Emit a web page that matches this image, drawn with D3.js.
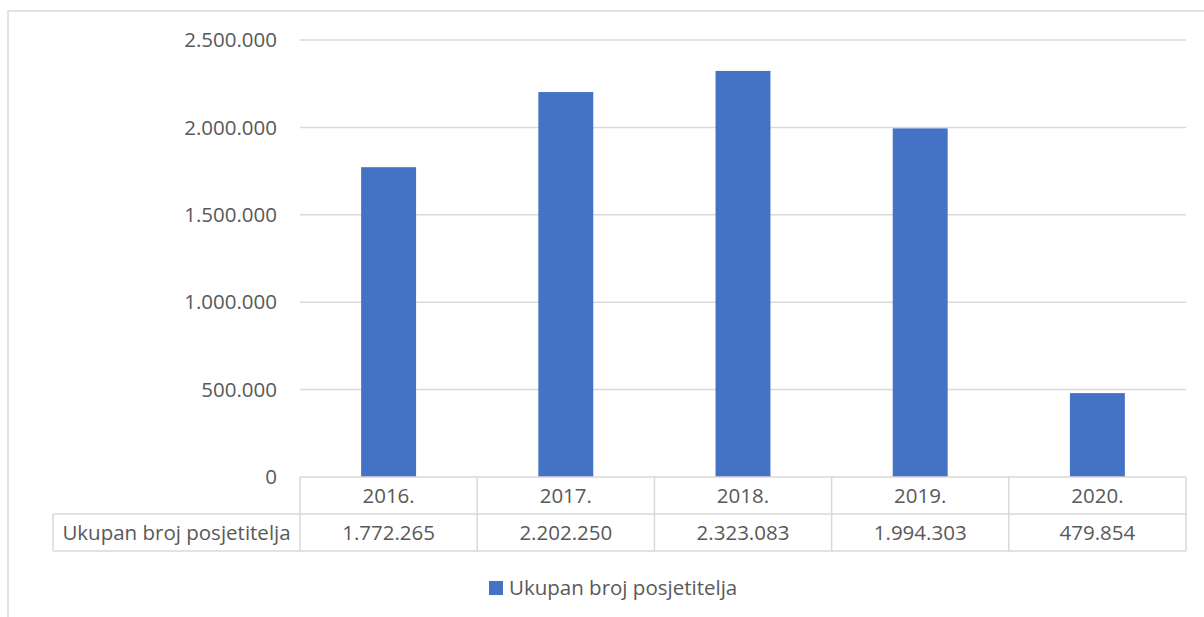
<!DOCTYPE html>
<html><head><meta charset="utf-8">
<script src="https://cdn.jsdelivr.net/npm/d3@7"></script>
<style>body{margin:0;background:#fff}svg{display:block}text{font-family:"Open Sans",sans-serif;fill:#595959}</style>
</head><body><svg id="c" width="1204" height="617"></svg>
<script>
const categories = ["2016.", "2017.", "2018.", "2019.", "2020."];
const values = [1772265, 2202250, 2323083, 1994303, 479854];
const valueLabels = ["1.772.265", "2.202.250", "2.323.083", "1.994.303", "479.854"];
const yTicks = [0, 500000, 1000000, 1500000, 2000000, 2500000];
const seriesName = "Ukupan broj posjetitelja";

(function () {
const svg = d3.select("#c");
const fs = 20.5;
const grid = "#d9d9d9";
const pLeft = 300, pRight = 1186, pTop = 40, pBottom = 477;
const rowH = 37;

// outer border
svg.append("rect").attr("x", 8).attr("y", 11).attr("width", 1220).attr("height", 640)
  .attr("fill", "none").attr("stroke", grid).attr("stroke-width", 1.5);

const x = d3.scaleBand().domain(categories).range([pLeft, pRight]).paddingInner(0).paddingOuter(0);
const y = d3.scaleLinear().domain([0, 2500000]).range([pBottom, pTop]);
const fmt = d => d3.format(",")(d).replace(/,/g, ".");

svg.append("g").selectAll("line").data(yTicks.filter(d => d > 0)).join("line")
  .attr("x1", pLeft).attr("x2", pRight).attr("y1", d => y(d)).attr("y2", d => y(d))
  .attr("stroke", grid).attr("stroke-width", 1.5);

svg.append("g").selectAll("text").data(yTicks).join("text")
  .attr("x", 277).attr("y", d => y(d)).attr("dy", "0.35em").attr("text-anchor", "end")
  .attr("font-size", fs).text(fmt);

const bw = x.bandwidth() * 0.31;
svg.append("g").selectAll("rect").data(values).join("rect")
  .attr("x", (d, i) => x(categories[i]) + x.bandwidth() / 2 - bw / 2)
  .attr("width", bw)
  .attr("y", d => y(d)).attr("height", d => y(0) - y(d))
  .attr("fill", "#4472C4");

// data table
const tg = svg.append("g").attr("stroke", grid).attr("stroke-width", 1.5);
const tl = 53;
tg.append("line").attr("x1", pLeft).attr("x2", pRight).attr("y1", pBottom).attr("y2", pBottom);
tg.append("line").attr("x1", tl).attr("x2", pRight).attr("y1", pBottom + rowH).attr("y2", pBottom + rowH);
tg.append("line").attr("x1", tl).attr("x2", pRight).attr("y1", pBottom + 2 * rowH).attr("y2", pBottom + 2 * rowH);
tg.append("line").attr("x1", tl).attr("x2", tl).attr("y1", pBottom + rowH).attr("y2", pBottom + 2 * rowH);
tg.selectAll(".v").data(categories.map(c => x(c)).concat([pRight])).join("line")
  .attr("x1", d => d).attr("x2", d => d).attr("y1", pBottom).attr("y2", pBottom + 2 * rowH);

svg.append("g").selectAll("text").data(categories).join("text")
  .attr("x", d => x(d) + x.bandwidth() / 2).attr("y", pBottom + rowH / 2).attr("dy", "0.35em")
  .attr("text-anchor", "middle").attr("font-size", fs).text(d => d);
svg.append("g").selectAll("text").data(valueLabels).join("text")
  .attr("x", (d, i) => x(categories[i]) + x.bandwidth() / 2).attr("y", pBottom + rowH * 1.5).attr("dy", "0.35em")
  .attr("text-anchor", "middle").attr("font-size", fs).text(d => d);
svg.append("text").attr("x", (tl + pLeft) / 2).attr("y", pBottom + rowH * 1.5).attr("dy", "0.35em")
  .attr("text-anchor", "middle").attr("font-size", fs).text(seriesName);

// legend
svg.append("rect").attr("x", 489).attr("y", 581).attr("width", 14).attr("height", 14).attr("fill", "#4472C4");
svg.append("text").attr("x", 509).attr("y", 588).attr("dy", "0.35em").attr("font-size", fs).text(seriesName);
})();
</script></body></html>
